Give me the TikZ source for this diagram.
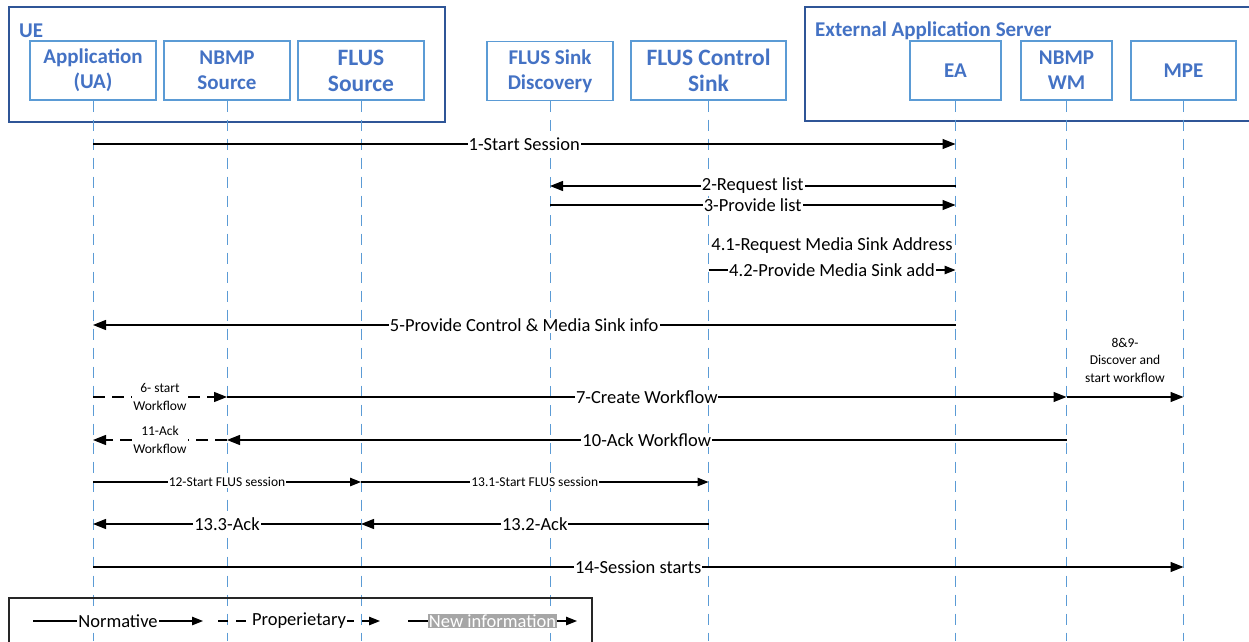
\documentclass[tikz,border=0pt]{standalone}
\usepackage{fontspec}
\setmainfont{Carlito}
\usetikzlibrary{arrows.meta}
\definecolor{boxblue}{RGB}{47,85,151}
\definecolor{lineblue}{RGB}{91,155,213}
\definecolor{textblue}{RGB}{68,114,196}
\definecolor{newgray}{RGB}{166,166,166}
\tikzset{
    entity/.style={draw=lineblue, line width=1.2pt, minimum height=59pt, text=textblue,
        font=\bfseries\fontsize{21}{25}\selectfont, align=center, inner sep=0pt},
    bigentity/.style={entity, font=\bfseries\fontsize{23.5}{26}\selectfont},
    group/.style={draw=boxblue, line width=1.6pt},
    grouptitle/.style={anchor=base west, text=textblue, font=\bfseries\fontsize{21}{25}\selectfont, inner sep=0pt},
    lifeline/.style={draw=lineblue, line width=0.9pt, dash pattern=on 11pt off 8pt},
    msg/.style={line width=1.2pt, -{Triangle[length=13pt,width=10pt]}},
    smallmsg/.style={line width=1.2pt, -{Triangle[length=11pt,width=8.5pt]}},
    propmsg/.style={msg, dash pattern=on 12pt off 7pt},
    lbl/.style={fill=white, inner sep=1pt, font=\fontsize{18.5}{22}\selectfont},
    smalllbl/.style={fill=white, inner sep=1pt, align=center, font=\fontsize{13.5}{17.5}\selectfont}
}
\begin{document}
\begin{tikzpicture}[x=1pt, y=-1pt]
    \useasboundingbox (0,0) rectangle (1249,641);

    % groups
    \draw[group] (9,7) rectangle (445,122);
    \node[grouptitle] (uetitle) at (19,37) {UE};
    \draw[group] (805,7) rectangle (1260,121);
    \node[grouptitle] (eastitle) at (815,36) {External Application Server};

    % entities
    \node[entity, minimum width=126pt] (app) at (93,70.5) {Application\\(UA)};
    \node[entity, minimum width=126pt] (nbmp) at (227,70.5) {NBMP\\Source};
    \node[bigentity, minimum width=126pt] (flus) at (361,70.5) {FLUS\\Source};
    \node[entity, minimum width=126pt] (disc) at (550,71) {FLUS Sink\\Discovery};
    \node[bigentity, minimum width=155pt] (ctrl) at (708.5,70.5) {FLUS Control\\Sink};
    \node[entity, minimum width=91pt] (ea) at (955.5,70.5) {EA};
    \node[entity, minimum width=91pt] (wm) at (1066.5,70.5) {NBMP\\WM};
    \node[entity, minimum width=105pt] (mpe) at (1183.5,70.5) {MPE};

    \coordinate (bottom) at (0,641);
    \foreach \n in {app,nbmp,flus,disc,ctrl,ea,wm,mpe} {
        \draw[lifeline] (\n.south) -- (\n.south |- bottom);
    }

    % messages
    \draw[msg] (app |- 0,144) -- (ea |- 0,144) node[midway, lbl] {1-Start Session};
    \draw[msg] (ea |- 0,186) -- (disc |- 0,186) node[midway, lbl] {2-Request list};
    \draw[msg] (disc |- 0,205) -- (ea |- 0,205) node[midway, lbl] {3-Provide list};
    \node[lbl] (req41) at (832,246) {4.1-Request Media Sink Address};
    \draw[smallmsg] (ctrl |- 0,270) -- (ea |- 0,270) node[midway, lbl] {4.2-Provide Media Sink add};
    \draw[msg] (ea |- 0,325) -- (app |- 0,325) node[midway, lbl] {5-Provide Control \& Media Sink info};
    \draw[propmsg] (app |- 0,397) -- (nbmp |- 0,397) node[midway, smalllbl] {6- start\\Workflow};
    \draw[msg] (nbmp |- 0,397) -- (wm |- 0,397) node[midway, lbl] {7-Create Workflow};
    \draw[msg] (wm |- 0,397) -- (mpe |- 0,397) node[midway, above=13pt, smalllbl] {8\&9-\\Discover and\\start workflow};
    \draw[msg] (wm |- 0,440) -- (nbmp |- 0,440) node[midway, lbl] {10-Ack Workflow};
    \draw[propmsg] (nbmp |- 0,440) -- (app |- 0,440) node[midway, smalllbl] {11-Ack\\Workflow};
    \draw[smallmsg] (app |- 0,482) -- (flus |- 0,482) node[midway, smalllbl] {12-Start FLUS session};
    \draw[smallmsg] (flus |- 0,482) -- (ctrl |- 0,482) node[midway, smalllbl] {13.1-Start FLUS session};
    \draw[msg] (ctrl |- 0,524) -- (flus |- 0,524) node[midway, lbl] {13.2-Ack};
    \draw[msg] (flus |- 0,524) -- (app |- 0,524) node[midway, lbl] {13.3-Ack};
    \draw[msg] (app |- 0,567) -- (mpe |- 0,567) node[midway, lbl] {14-Session starts};

    % legend
    \draw[black!85, line width=1.2pt] (9,598) rectangle (592,660);
    \coordinate (n1) at (33,621);
    \coordinate (n2) at (203,621);
    \coordinate (p1) at (218,621);
    \coordinate (p2) at (380,621);
    \coordinate (i1) at (408,621);
    \coordinate (i2) at (577,621);
    \draw[smallmsg] (n1) -- (n2) node[midway, lbl] {Normative};
    \draw[smallmsg, dash pattern=on 10pt off 8pt] (p1) -- (p2) node[midway, lbl] {Properietary};
    \draw[smallmsg] (i1) -- (i2) node[midway, lbl, fill=newgray, text=white] {New information};
\end{tikzpicture}
\end{document}
